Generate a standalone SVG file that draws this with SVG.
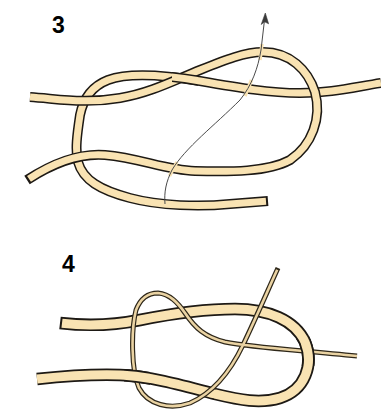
<svg xmlns="http://www.w3.org/2000/svg" width="381" height="409" viewBox="0 0 381 409">
  <style>
    .edge{fill:none;stroke:#1d1914;stroke-width:10;stroke-linecap:butt;stroke-linejoin:round}
    .core{fill:none;stroke:#f9e3b3;stroke-width:7;stroke-linecap:butt;stroke-linejoin:round}
    .t-edge{fill:none;stroke:#1d1914;stroke-width:12.5;stroke-linecap:butt}
    .t-core{fill:none;stroke:#f9e3b3;stroke-width:9;stroke-linecap:butt}
    .n-edge{fill:none;stroke:#2e2719;stroke-width:5;stroke-linecap:butt}
    .n-core{fill:none;stroke:#ead3a3;stroke-width:2.6;stroke-linecap:butt}
    .halo{fill:none;stroke:#f9e3b3;stroke-width:3.5}
    .guide{fill:none;stroke:#4a4a4a;stroke-width:1}
    .label{font-family:"Liberation Sans",Arial,sans-serif;font-weight:bold;font-size:23px;fill:#000}
  </style>
  <defs>
    <!-- step 3: working rope (upper-left end, loop, lower-left end) -->
    <path id="r1" d="M30,97 C60,99 85,104 120,98 C150,93 175,80 200,70 C225,60 245,52 263,52 C290,52 308,70 315,92 C322,118 312,145 290,160 C268,172 230,172 195,171 C165,170 140,158 105,155 C80,153 55,162 27,180"/>
    <path id="r1c" d="M30,97 C60,99 85,104 120,98 C150,93 175,80 200,70 C225,60 245,52 263,52 C290,52 308,70 315,92 C322,118 312,145 290,160 C268,172 230,172 195,171 C165,170 140,158 105,155 C80,153 56,161 29,178.8"/>
    <!-- step 3: standing rope (right end, left bight, lower end) -->
    <path id="r2" d="M381,83 C350,88 330,93 300,93 C270,93 240,88 200,81 C170,76 130,72 108,80 C90,87 83,100 80,115 C77,135 75,150 78,162 C83,180 100,190 130,198 C160,206 200,207 230,204 L268,201"/>
    <path id="r2c" d="M381,83 C350,88 330,93 300,93 C270,93 240,88 200,81 C170,76 130,72 108,80 C90,87 83,100 80,115 C77,135 75,150 78,162 C83,180 100,190 130,198 C160,206 200,207 230,204 L266,201.2"/>
    <!-- step 4: thick rope -->
    <path id="tk" d="M60,323 C85,326 110,326 140,320 C170,314 200,309 235,309 C268,309 295,320 305,342 C314,365 305,390 280,398 C260,404 240,400 215,394 C185,386 150,376 120,375 C90,374 65,376 37,379"/>
    <path id="tkc" d="M62,323.3 C85,326 110,326 140,320 C170,314 200,309 235,309 C268,309 295,320 305,342 C314,365 305,390 280,398 C260,404 240,400 215,394 C185,386 150,376 120,375 C90,374 65,376 37,379"/>
    <!-- step 4: thin rope -->
    <path id="tn" d="M278,268 C268,290 255,320 243,345 C232,368 215,392 190,403 C170,410 148,405 139,388 C131,370 131,330 136,310 C141,297 150,293 158,293 C170,294 178,303 185,313 C195,328 205,337 225,342 C255,348 300,350 357,356"/>
    <path id="tnc" d="M277.2,269.8 C267.5,291 255,320 243,345 C232,368 215,392 190,403 C170,410 148,405 139,388 C131,370 131,330 136,310 C141,297 150,293 158,293 C170,294 178,303 185,313 C195,328 205,337 225,342 C255,348 300,350 357,356"/>
    <clipPath id="cross-b"><rect x="172" y="64" width="26" height="28"/></clipPath>
    <clipPath id="cross-l"><rect x="124" y="364" width="26" height="28"/></clipPath>
    <clipPath id="cross-r"><rect x="296" y="336" width="22" height="30"/></clipPath>
  </defs>

  <text class="label" x="52" y="33">3</text>
  <text class="label" x="62" y="272">4</text>

  <g id="step3">
    <g id="rope-standing">
      <use href="#r2" class="edge"/>
      <use href="#r2c" class="core"/>
    </g>
    <g id="rope-working">
      <use href="#r1" class="edge"/>
      <use href="#r1c" class="core"/>
    </g>
    <!-- standing part passes over the working rope here -->
    <g id="rope-standing-over" clip-path="url(#cross-b)">
      <use href="#r2" class="edge"/>
      <use href="#r2c" class="core"/>
    </g>
    <g id="pull-arrow">
      <line class="halo" x1="169.5" y1="176" x2="177" y2="162"/>
      <line class="halo" x1="245" y1="96" x2="251.5" y2="80"/>
      <line class="halo" x1="260" y1="60" x2="262" y2="44"/>
      <path class="guide" d="M165,204 C164,192 166,182 172,170 C185,148 215,125 240,100 C252,85 258,68 261,50 L264.5,20"/>
      <path d="M265.3,13 L261.2,24.5 L264.6,21.8 L268.6,23.8 Z" fill="#3a3a3a" stroke="#3a3a3a" stroke-width="0.6" stroke-linejoin="round"/>
    </g>
  </g>

  <g id="step4">
    <g id="thick-rope">
      <use href="#tk" class="t-edge"/>
      <use href="#tkc" class="t-core"/>
    </g>
    <g id="thin-rope">
      <use href="#tn" class="n-edge"/>
      <use href="#tnc" class="n-core"/>
    </g>
    <!-- thick rope covers the thin rope at these two crossings -->
    <g id="thick-over-left" clip-path="url(#cross-l)">
      <use href="#tk" class="t-edge"/>
      <use href="#tkc" class="t-core"/>
    </g>
    <g id="thick-over-right" clip-path="url(#cross-r)">
      <use href="#tk" class="t-edge"/>
      <use href="#tkc" class="t-core"/>
    </g>
  </g>
</svg>
